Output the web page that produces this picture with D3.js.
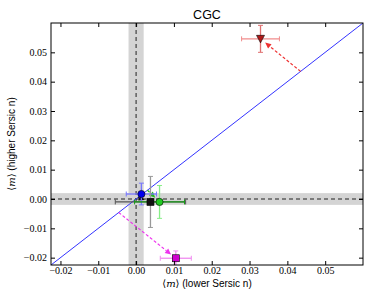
<!DOCTYPE html>
<html><head><meta charset="utf-8">
<script src="https://cdn.jsdelivr.net/npm/d3@7"></script>
<style>body{margin:0;background:#fff;} svg{display:block;}</style>
</head><body>
<script>
// ---- data ----
const title = "CGC";
const xTicks = [-0.02, -0.01, 0.00, 0.01, 0.02, 0.03, 0.04, 0.05];
const yTicks = [-0.02, -0.01, 0.00, 0.01, 0.02, 0.03, 0.04, 0.05];
const mLow  = [0.0329, 0.0105, 0.0014, 0.0038, 0.0062];
const mHigh = [0.0546, -0.0202, 0.0017, -0.0010, -0.0010];
const xErr  = [0.0050, 0.0041, 0.0040, 0.0093, 0.0066];
const yErr  = [0.0046, 0.0025, 0.0037, 0.0087, 0.0056];
const arrowTail = [0.0435, -0.0046, null, 0.0005, 0.0030]; // start point on the 1:1 line
const markers = ["triangle", "square", "circle", "square", "circle"];
const fills   = ["#b01818", "#d000d0", "#0000ee", "#111111", "#22cc22"];
const errX    = ["#f08c8c", "#f08cf0", "#7777ff", "#555555", "#1a9a1a"];
const errY    = ["#e07070", "#f08cf0", "#7777ff", "#999999", "#88ee88"];
const arrowC  = ["#ee3030", "#ee33ee", "#0000ee", "#111111", "#22bb22"];
const bandHalf = 0.002;

// ---- layout ----
const W = 374, H = 299;
const L = 51, R = 363, T = 23, B = 265;
const svg = d3.select("body").append("svg").attr("width", W).attr("height", H);
const x = d3.scaleLinear().domain([-0.0225, 0.06]).range([L, R]);
const y = d3.scaleLinear().domain([-0.0225, 0.06]).range([B, T]);

const defs = svg.append("defs");
defs.append("clipPath").attr("id", "clip").append("rect")
  .attr("x", L).attr("y", T).attr("width", R - L).attr("height", B - T);
const g = svg.append("g").attr("clip-path", "url(#clip)");

// bands
g.append("rect").attr("x", x(-bandHalf)).attr("width", x(bandHalf) - x(-bandHalf))
  .attr("y", T).attr("height", B - T).attr("fill", "#d4d4d4");
g.append("rect").attr("y", y(bandHalf)).attr("height", y(-bandHalf) - y(bandHalf))
  .attr("x", L).attr("width", R - L).attr("fill", "#d4d4d4");
// dashed zero lines
g.append("line").attr("x1", x(0)).attr("x2", x(0)).attr("y1", T).attr("y2", B)
  .attr("stroke", "#222").attr("stroke-width", 1).attr("stroke-dasharray", "4,3");
g.append("line").attr("y1", y(0)).attr("y2", y(0)).attr("x1", L).attr("x2", R)
  .attr("stroke", "#222").attr("stroke-width", 1).attr("stroke-dasharray", "4,3");
// 1:1 line
g.append("line").attr("x1", x(-0.0225)).attr("y1", y(-0.0225)).attr("x2", x(0.06)).attr("y2", y(0.06))
  .attr("stroke", "#3333ff").attr("stroke-width", 1);

// arrows
mLow.forEach((v, i) => {
  const t = arrowTail[i];
  if (t === null) return;
  const x0 = x(t), y0 = y(t), x1 = x(v), y1 = y(mHigh[i]);
  const dx = x1 - x0, dy = y1 - y0, len = Math.hypot(dx, dy);
  const ux = dx / len, uy = dy / len;
  const tipX = x1 - ux * 6, tipY = y1 - uy * 6;
  const hl = 6, hw = 2.8;
  const bx = tipX - ux * hl, by = tipY - uy * hl;
  g.append("line").attr("x1", x0).attr("y1", y0).attr("x2", bx).attr("y2", by)
    .attr("stroke", arrowC[i]).attr("stroke-width", 1.2).attr("stroke-dasharray", "3,2");
  g.append("path")
    .attr("d", `M${tipX},${tipY}L${bx - uy * hw},${by + ux * hw}L${bx + uy * hw},${by - ux * hw}Z`)
    .attr("fill", arrowC[i]);
});

// error bars + markers
const cap = 2.5;
mLow.forEach((v, i) => {
  const cx = x(v), cy = y(mHigh[i]);
  const xa = x(v - xErr[i]), xb = x(v + xErr[i]);
  const ya = y(mHigh[i] + yErr[i]), yb = y(mHigh[i] - yErr[i]);
  const eg = g.append("g");
  eg.append("line").attr("x1", xa).attr("x2", xb).attr("y1", cy).attr("y2", cy).attr("stroke", errX[i]).attr("stroke-width", 1.3);
  [xa, xb].forEach(px => eg.append("line").attr("x1", px).attr("x2", px).attr("y1", cy - cap).attr("y2", cy + cap).attr("stroke", errX[i]));
  eg.append("line").attr("y1", ya).attr("y2", yb).attr("x1", cx).attr("x2", cx).attr("stroke", errY[i]).attr("stroke-width", 1.3);
  [ya, yb].forEach(py => eg.append("line").attr("y1", py).attr("y2", py).attr("x1", cx - cap).attr("x2", cx + cap).attr("stroke", errY[i]));
});
mLow.forEach((v, i) => {
  const cx = x(v), cy = y(mHigh[i]);
  const m = markers[i];
  let sym;
  if (m === "triangle") {
    sym = g.append("path").attr("d", `M${cx - 4},${cy - 3.5}L${cx + 4},${cy - 3.5}L${cx},${cy + 4}Z`);
  } else if (m === "square") {
    sym = g.append("rect").attr("x", cx - 3.5).attr("y", cy - 3.5).attr("width", 7).attr("height", 7);
  } else {
    sym = g.append("circle").attr("cx", cx).attr("cy", cy).attr("r", 3.6);
  }
  sym.attr("fill", fills[i]).attr("stroke", "#000").attr("stroke-width", 0.6);
});

// frame
svg.append("rect").attr("x", L).attr("y", T).attr("width", R - L).attr("height", B - T)
  .attr("fill", "none").attr("stroke", "#000").attr("stroke-width", 1);

// ticks (inside, all sides)
const fmt = d => (d < 0 ? "\u2212" : "") + Math.abs(d).toFixed(2);
const tl = 4;
const axB = svg.append("g").attr("transform", `translate(0,${B})`)
  .call(d3.axisBottom(x).tickValues(xTicks).tickFormat(fmt).tickSizeInner(-tl).tickSizeOuter(0).tickPadding(2));
const axT = svg.append("g").attr("transform", `translate(0,${T})`)
  .call(d3.axisTop(x).tickValues(xTicks).tickFormat("").tickSizeInner(-tl).tickSizeOuter(0));
const axL = svg.append("g").attr("transform", `translate(${L},0)`)
  .call(d3.axisLeft(y).tickValues(yTicks).tickFormat(fmt).tickSizeInner(-tl).tickSizeOuter(0).tickPadding(4));
const axR = svg.append("g").attr("transform", `translate(${R},0)`)
  .call(d3.axisRight(y).tickValues(yTicks).tickFormat("").tickSizeInner(-tl).tickSizeOuter(0));
[axB, axT, axL, axR].forEach(a => {
  a.select(".domain").remove();
  a.selectAll("line").attr("stroke", "#000");
  a.selectAll("text").attr("font-family", "Liberation Serif, serif").attr("font-size", 10).attr("fill", "#000");
});

// title and labels
svg.append("text").attr("x", (L + R) / 2).attr("y", 19).attr("text-anchor", "middle")
  .attr("font-family", "Liberation Sans, Arial, sans-serif").attr("font-size", 12.5).text(title);
const xl = svg.append("text").attr("x", (L + R) / 2).attr("y", 287).attr("text-anchor", "middle")
  .attr("font-family", "Liberation Sans, Arial, sans-serif").attr("font-size", 10);
xl.append("tspan").attr("font-family", "DejaVu Serif, serif").text("\u27E8");
xl.append("tspan").attr("font-family", "DejaVu Serif, serif").attr("font-style", "italic").text("m");
xl.append("tspan").attr("font-family", "DejaVu Serif, serif").text("\u27E9");
xl.append("tspan").text(" (lower Sersic n)");
const yl = svg.append("text").attr("transform", `translate(15,${(T + B) / 2}) rotate(-90)`).attr("text-anchor", "middle")
  .attr("font-family", "Liberation Sans, Arial, sans-serif").attr("font-size", 10);
yl.append("tspan").attr("font-family", "DejaVu Serif, serif").text("\u27E8");
yl.append("tspan").attr("font-family", "DejaVu Serif, serif").attr("font-style", "italic").text("m");
yl.append("tspan").attr("font-family", "DejaVu Serif, serif").text("\u27E9");
yl.append("tspan").text(" (higher Sersic n)");
</script>
</body></html>
